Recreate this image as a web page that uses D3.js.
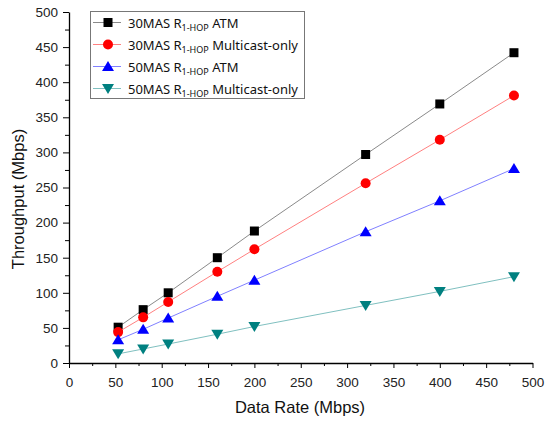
<!DOCTYPE html>
<html lang="en">
<head>
  <meta charset="UTF-8" />
  <title>Throughput vs Data Rate</title>
  <style>
    html, body { margin: 0; background: #fff; }
    svg { display: block; font-family: "Liberation Sans", Arial, sans-serif; }
    .axis path, .axis line { stroke: #000; }
    .axis text { font-size: 13.5px; fill: #222; }
    .legend text { font-family: "Noto Sans", "Open Sans", sans-serif; font-size: 13px; fill: #111; }
  </style>
  <script src="https://d3js.org/d3.v7.min.js"></script>
</head>
<body>
  <svg id="chart" width="551" height="421"></svg>
  <script>
    // data
    const dataRate = [53, 80, 107, 160, 200, 320, 400, 480];
    const atm30 = [51, 76, 100, 150, 188, 297, 369, 442];
    const mc30 = [44, 65, 87, 130, 162, 256, 318, 381];
    const atm50 = [33, 48, 64, 95, 118, 187, 231, 277];
    const mc50 = [13, 20, 27, 41, 52, 82, 102, 123];

    const xTicks = [0, 50, 100, 150, 200, 250, 300, 350, 400, 450, 500];
    const yTicks = [0, 50, 100, 150, 200, 250, 300, 350, 400, 450, 500];

    const series = [
      { name: "30MAS", tail: "ATM", values: atm30, line: "#8a8a8a", fill: "#000000", shape: "square" },
      { name: "30MAS", tail: "Multicast-only", values: mc30, line: "#ff8080", fill: "#ff0000", shape: "circle" },
      { name: "50MAS", tail: "ATM", values: atm50, line: "#8080ff", fill: "#0000ff", shape: "up" },
      { name: "50MAS", tail: "Multicast-only", values: mc50, line: "#80c0c0", fill: "#008080", shape: "down" }
    ];

    const svg = d3.select("#chart");
    const x = d3.scaleLinear().domain([0, 500]).range([69, 532.5]);
    const y = d3.scaleLinear().domain([0, 500]).range([363, 12]);

    // minor ticks first (short), then major axis
    svg.append("g").attr("class", "axis")
      .attr("transform", "translate(0,363)")
      .call(d3.axisBottom(x).tickValues(d3.range(25, 500, 50)).tickSize(3).tickFormat(""))
      .select(".domain").remove();
    svg.append("g").attr("class", "axis")
      .attr("transform", "translate(69,0)")
      .call(d3.axisLeft(y).tickValues(d3.range(25, 500, 50)).tickSize(4).tickFormat(""))
      .select(".domain").remove();

    svg.append("g").attr("class", "axis")
      .attr("transform", "translate(0,363)")
      .call(d3.axisBottom(x).tickValues(xTicks).tickSize(5).tickSizeOuter(0).tickPadding(9));
    svg.append("g").attr("class", "axis")
      .attr("transform", "translate(69,0)")
      .call(d3.axisLeft(y).tickValues(yTicks).tickSize(6).tickSizeOuter(0).tickPadding(5));

    svg.selectAll(".axis path.domain").attr("stroke-width", 1.3);

    svg.append("text")
      .attr("x", 300).attr("y", 413)
      .attr("text-anchor", "middle")
      .attr("font-size", 16.5).attr("fill", "#111")
      .text("Data Rate (Mbps)");
    svg.append("text")
      .attr("transform", "translate(24,199) rotate(-90)")
      .attr("text-anchor", "middle")
      .attr("font-size", 16.5).attr("fill", "#111")
      .text("Throughput (Mbps)");

    function drawMarker(g, shape, fill) {
      if (shape === "square") {
        g.append("rect").attr("x", -4.5).attr("y", -4.5).attr("width", 9).attr("height", 9).attr("fill", fill);
      } else if (shape === "circle") {
        g.append("circle").attr("r", 5).attr("fill", fill);
      } else if (shape === "up") {
        g.append("path").attr("d", "M0,-5.5L6,4.5L-6,4.5Z").attr("fill", fill);
      } else {
        g.append("path").attr("d", "M0,5.5L6,-4.5L-6,-4.5Z").attr("fill", fill);
      }
    }

    const line = d3.line().x(d => x(d[0])).y(d => y(d[1]));

    series.forEach(s => {
      const pts = dataRate.map((r, i) => [r, s.values[i]]);
      svg.append("path").datum(pts)
        .attr("d", line).attr("fill", "none")
        .attr("stroke", s.line).attr("stroke-width", 1);
      pts.forEach(p => {
        const g = svg.append("g").attr("transform", `translate(${x(p[0])},${y(p[1])})`);
        drawMarker(g, s.shape, s.fill);
      });
    });

    // legend
    const lg = svg.append("g").attr("class", "legend");
    lg.append("rect").attr("x", 90.5).attr("y", 11.5).attr("width", 214).attr("height", 87)
      .attr("fill", "#fff").attr("stroke", "#777").attr("stroke-width", 1);
    series.forEach((s, i) => {
      const cy = 22.5 + i * 22;
      lg.append("line").attr("x1", 93).attr("x2", 121).attr("y1", cy).attr("y2", cy)
        .attr("stroke", s.line).attr("stroke-width", 1);
      const g = lg.append("g").attr("transform", `translate(108,${cy})`);
      drawMarker(g, s.shape, s.fill);
      const t = lg.append("text").attr("x", 128).attr("y", cy + 5.5);
      t.append("tspan").text(s.name + " R");
      t.append("tspan").attr("font-size", 9).attr("dy", 3).text("1-HOP");
      t.append("tspan").attr("dy", -3).text(" " + s.tail);
    });
  </script>
</body>
</html>
